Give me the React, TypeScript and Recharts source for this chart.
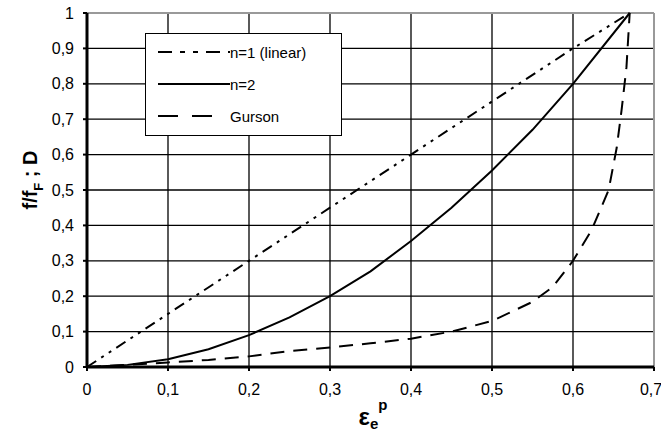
import { LineChart, Line, XAxis, YAxis, CartesianGrid, ReferenceLine } from "recharts";

// strain values (x) and damage values (y)
const linearX = [0, 0.1, 0.2, 0.3, 0.4, 0.5, 0.6, 0.67];
const linearY = [0, 0.15, 0.3, 0.45, 0.6, 0.75, 0.9, 1];

const n2X = [0, 0.05, 0.1, 0.15, 0.2, 0.25, 0.3, 0.35, 0.4, 0.45, 0.5, 0.55, 0.6, 0.67];
const n2Y = [0, 0.006, 0.022, 0.05, 0.09, 0.14, 0.2, 0.27, 0.356, 0.45, 0.555, 0.67, 0.8, 1];

const gursonX = [0, 0.05, 0.1, 0.15, 0.2, 0.25, 0.3, 0.35, 0.4, 0.45, 0.5, 0.55, 0.575, 0.6, 0.623, 0.644, 0.654, 0.66, 0.666, 0.67];
const gursonY = [0, 0.006, 0.013, 0.02, 0.03, 0.045, 0.055, 0.067, 0.08, 0.1, 0.13, 0.184, 0.226, 0.3, 0.387, 0.5, 0.62, 0.726, 0.847, 1];

const xTicks = [0, 0.1, 0.2, 0.3, 0.4, 0.5, 0.6, 0.7];
const xTickLabels = ["0", "0,1", "0,2", "0,3", "0,4", "0,5", "0,6", "0,7"];
const yTicks = [0, 0.1, 0.2, 0.3, 0.4, 0.5, 0.6, 0.7, 0.8, 0.9, 1];
const yTickLabels = ["0", "0,1", "0,2", "0,3", "0,4", "0,5", "0,6", "0,7", "0,8", "0,9", "1"];

const toPoints = (xs: number[], ys: number[]) => xs.map((x, i) => ({ x, y: ys[i] }));

const series = [
  { name: "n=1 (linear)", data: toPoints(linearX, linearY), dash: "11 6 3 6 3 6", legendDash: "14 8 5 8 5 8" },
  { name: "n=2", data: toPoints(n2X, n2Y), dash: undefined, legendDash: undefined },
  { name: "Gurson", data: toPoints(gursonX, gursonY), dash: "14 9", legendDash: "20 14" },
];

const FONT = "Liberation Sans, Arial, sans-serif";

function tickFmt(labels: string[], ticks: number[]) {
  return (v: number) => {
    const i = ticks.findIndex((t) => Math.abs(t - v) < 1e-6);
    return i >= 0 ? labels[i] : String(v);
  };
}

function YLabel(props: any) {
  const { viewBox } = props;
  const cx = 37;
  const cy = viewBox.y + viewBox.height / 2 - 10;
  return (
    <text
      x={cx}
      y={cy}
      transform={`rotate(-90 ${cx} ${cy})`}
      textAnchor="middle"
      fontFamily={FONT}
      fontWeight="bold"
      fontSize={20}
      fill="#000"
    >
      f/f
      <tspan fontSize={13} dy={6}>F</tspan>
      <tspan dy={-6}> ; D</tspan>
    </text>
  );
}

function XLabel(props: any) {
  const { viewBox } = props;
  const cx = viewBox.x + viewBox.width / 2 - 12;
  return (
    <text x={cx} y={425} fontFamily={FONT} fontWeight="bold" fontSize={24} fill="#000">
      ε
      <tspan fontSize={15} dy={4}>e</tspan>
      <tspan fontSize={15} dy={-19}>p</tspan>
    </text>
  );
}

export default function App() {
  return (
    <div style={{ position: "absolute", left: 0, top: 0, width: 661, height: 435, background: "#fff" }}>
      <LineChart width={661} height={435} data={[]} margin={{ top: 13, right: 7, bottom: 38, left: 0 }}>
        <CartesianGrid stroke="#000" strokeWidth={1.3} />
        <XAxis
          dataKey="x"
          type="number"
          domain={[0, 0.7]}
          ticks={xTicks}
          tickFormatter={tickFmt(xTickLabels, xTicks)}
          axisLine={{ stroke: "#000", strokeWidth: 3 }}
          tickLine={{ stroke: "#000", strokeWidth: 2 }}
          tickSize={4}
          tick={{ fontSize: 16, fill: "#000", fontFamily: FONT }}
          tickMargin={13}
          allowDuplicatedCategory={false}
          label={<XLabel />}
        />
        <YAxis
          dataKey="y"
          type="number"
          domain={[0, 1]}
          ticks={yTicks}
          tickFormatter={tickFmt(yTickLabels, yTicks)}
          axisLine={{ stroke: "#000", strokeWidth: 3 }}
          tickLine={{ stroke: "#000", strokeWidth: 2 }}
          tickSize={4}
          tick={{ fontSize: 16, fill: "#000", fontFamily: FONT }}
          tickMargin={9}
          width={87}
          label={<YLabel />}
        />
        <ReferenceLine y={1} stroke="#999" strokeWidth={2} />
        <ReferenceLine x={0.7} stroke="#999" strokeWidth={2} />
        {series.map((s) => (
          <Line
            key={s.name}
            data={s.data}
            dataKey="y"
            type="linear"
            stroke="#000"
            strokeWidth={2}
            strokeDasharray={s.dash}
            dot={false}
            isAnimationActive={false}
          />
        ))}
      </LineChart>
      <div
        style={{
          position: "absolute",
          left: 145,
          top: 33,
          width: 197,
          height: 103,
          border: "1px solid #000",
          background: "#fff",
          boxSizing: "border-box",
          fontFamily: FONT,
          fontSize: 15,
          color: "#000",
        }}
      >
        {series.map((s, i) => (
          <div key={s.name} style={{ position: "absolute", left: 12, top: 8 + i * 32, height: 20, display: "flex", alignItems: "center" }}>
            <svg width={72} height={20} style={{ display: "block" }}>
              <line
                x1={0}
                y1={10}
                x2={s.name === "Gurson" ? 58 : 72}
                y2={10}
                stroke="#000"
                strokeWidth={2}
                strokeDasharray={s.legendDash}
              />
            </svg>
            <span style={{ whiteSpace: "nowrap" }}>{s.name}</span>
          </div>
        ))}
      </div>
    </div>
  );
}
